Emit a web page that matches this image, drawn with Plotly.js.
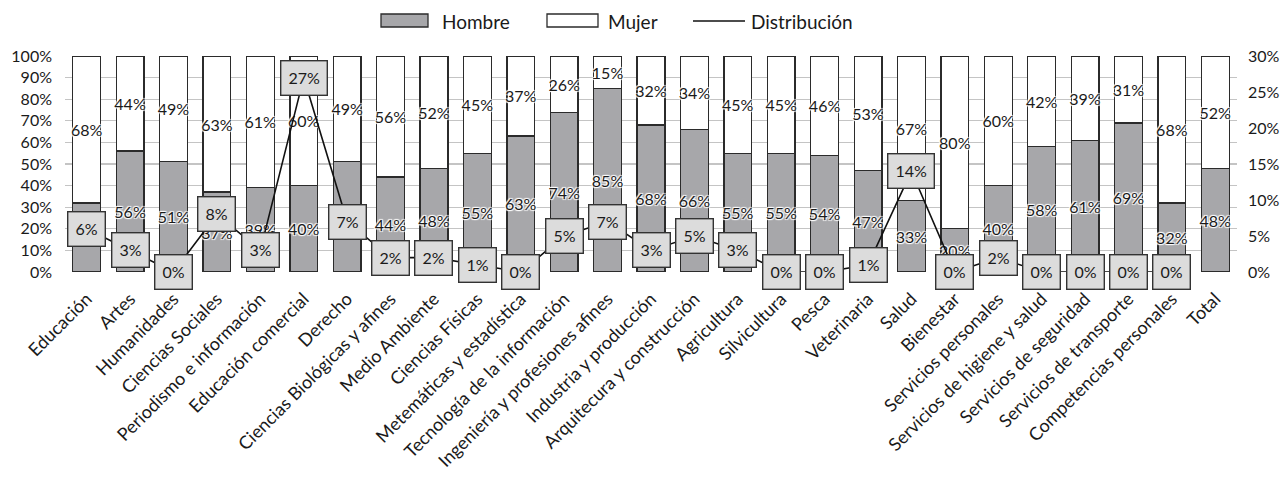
<!DOCTYPE html>
<html>
<head>
<meta charset="utf-8">
<script src="https://cdn.plot.ly/plotly-3.0.1.min.js"></script>
<style>html,body{margin:0;padding:0;background:#fff;}#chart{width:1282px;height:490px;}</style>
</head>
<body>
<div id="chart"></div>
<script>
const categorias = ["Educación","Artes","Humanidades","Ciencias Sociales","Periodismo e información","Educación comercial","Derecho","Ciencias Biológicas y afines","Medio Ambiente","Ciencias Físicas","Metemáticas y estadística","Tecnología de la información","Ingeniería y profesiones afines","Industria y producción","Arquitecura y construcción","Agricultura","Silvicultura","Pesca","Veterinaria","Salud","Bienestar","Servicios personales","Servicios de higiene y salud","Servicios de seguridad","Servicios de transporte","Competencias personales","Total"];
const hombre = [32,56,51,37,39,40,51,44,48,55,63,74,85,68,66,55,55,54,47,33,20,40,58,61,69,32,48];
const mujer = [68,44,49,63,61,60,49,56,52,45,37,26,15,32,34,45,45,46,53,67,80,60,42,39,31,68,52];
const distribucion = [6,3,0,8,3,27,7,2,2,1,0,5,7,3,5,3,0,0,1,14,0,2,0,0,0,0,null];
const nombres = ["Hombre","Mujer","Distribución"];

const FONT = "Lato, 'Open Sans', sans-serif";
const INK = "#1a1a1a";
const GRAY = "#a7a7aa";
const EDGE = "#2b2b2b";
const halo = "1px 1px 1px #fff, -1px -1px 1px #fff, 1px -1px 1px #fff, -1px 1px 1px #fff";

const pct = v => v + "%";

const barText = {family:FONT,size:16,color:INK,shadow:halo};
const traces = [
  {type:"bar", name:nombres[0], x:categorias, y:hombre, text:hombre.map(pct),
   textposition:"inside", insidetextanchor:"middle", constraintext:"none", textangle:0,
   textfont:barText, insidetextfont:barText,
   marker:{color:GRAY,line:{color:EDGE,width:1.3}}, showlegend:false, hoverinfo:"skip"},
  {type:"bar", name:nombres[1], x:categorias, y:mujer, text:mujer.map(pct),
   textposition:"inside", insidetextanchor:"middle", constraintext:"none", textangle:0,
   textfont:barText, insidetextfont:barText,
   marker:{color:"#ffffff",line:{color:EDGE,width:1.3}}, showlegend:false, hoverinfo:"skip"},
  {type:"scatter", mode:"lines", name:nombres[2], x:categorias, y:distribucion, yaxis:"y2",
   line:{color:"#111",width:1.6}, connectgaps:false, showlegend:false, hoverinfo:"skip"}
];

const annotations = [];
categorias.forEach((c,i)=>{
  if (distribucion[i] === null) return;
  annotations.push({x:c, y:distribucion[i], xref:"x", yref:"y2", text:pct(distribucion[i]),
    showarrow:false, font:{family:FONT,size:16,color:INK},
    bgcolor:"#dcdcdc", bordercolor:"#333", borderwidth:1.4, borderpad:7});
});

// custom legend (paper coords based on plot area)
const L = 65, R = 1237, T = 56, B = 272;
const px = v => (v - L) / (R - L);
const py = v => (B - v) / (B - T);
const shapes = [
  {type:"rect", xref:"paper", yref:"paper", x0:px(381), x1:px(428), y0:py(27), y1:py(14),
   fillcolor:GRAY, line:{color:EDGE,width:1.3}},
  {type:"rect", xref:"paper", yref:"paper", x0:px(547), x1:px(598), y0:py(27), y1:py(14),
   fillcolor:"#fff", line:{color:EDGE,width:1.3}},
  {type:"line", xref:"paper", yref:"paper", x0:px(693), x1:px(745), y0:py(21), y1:py(21),
   line:{color:"#111",width:1.6}}
];
[[440,nombres[0]],[606,nombres[1]],[749,nombres[2]]].forEach(([x,t])=>{
  annotations.push({xref:"paper", yref:"paper", x:px(x), y:py(21), xanchor:"left", yanchor:"middle",
    text:t, showarrow:false, font:{family:FONT,size:19,color:INK}});
});

const layout = {
  width:1282, height:490,
  margin:{l:L, r:1282-R, t:T, b:490-B},
  paper_bgcolor:"#fff", plot_bgcolor:"#fff",
  barmode:"stack", bargap:0.36,
  showlegend:false,
  uniformtext:{mode:"show", minsize:16},
  font:{family:FONT, size:16, color:INK},
  xaxis:{type:"category", tickangle:-45, showgrid:false, zeroline:false, showline:false,
    ticklabelstandoff:12,
    tickfont:{family:FONT,size:18,color:INK}, automargin:false},
  yaxis:{range:[0,100], dtick:10, ticksuffix:"%", showgrid:true, gridcolor:"#c4c4c4", gridwidth:1.3,
    zeroline:false, showline:false, ticklabelstandoff:12,
    tickfont:{family:FONT,size:16,color:INK}, automargin:false},
  yaxis2:{range:[0,30], dtick:5, ticksuffix:"%", overlaying:"y", side:"right", showgrid:false,
    zeroline:false, showline:false, ticklabelstandoff:10,
    tickfont:{family:FONT,size:16,color:INK}, automargin:false},
  shapes:shapes,
  annotations:annotations
};

Plotly.newPlot("chart", traces, layout, {displayModeBar:false, staticPlot:true});
</script>
</body>
</html>
